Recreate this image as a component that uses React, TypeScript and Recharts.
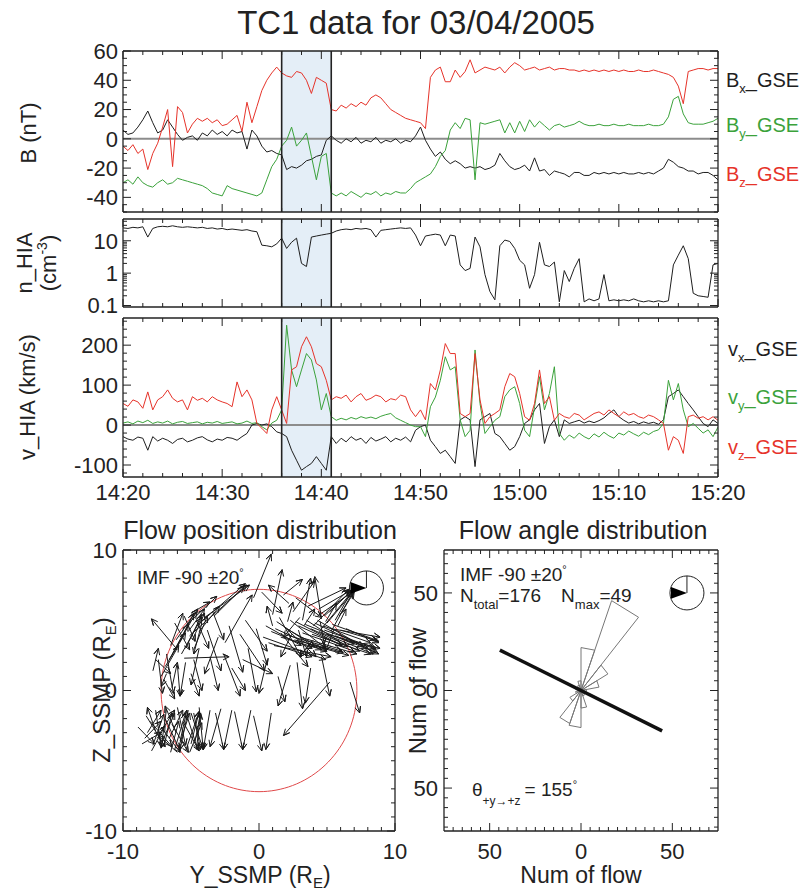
import React from 'react';
import {
  LineChart,
  ComposedChart,
  Line,
  XAxis,
  YAxis,
  ReferenceArea,
  ReferenceLine,
  ReferenceDot,
} from 'recharts';

const FONT = '"Liberation Sans", Arial, Helvetica, sans-serif';
const INK = '#222';
const C_X = '#1e1e1e';
const C_Y = '#3ba23b';
const C_Z = '#e6332a';
const BOX_FILL = '#e4eef7';
const PAGE_W = 804;
const PAGE_H = 894;

// ---------- time series: minutes after 14:20 UT, one sample every 30 s ----------
const timeLabels = ['14:20', '14:30', '14:40', '14:50', '15:00', '15:10', '15:20'];
const timeMajors = [0, 10, 20, 30, 40, 50, 60];
const timeTicks = [0, 2, 4, 6, 8, 10, 12, 14, 16, 18, 20, 22, 24, 26, 28, 30, 32, 34, 36, 38, 40, 42, 44, 46, 48, 50, 52, 54, 56, 58, 60];
const eventWindow = [16, 21]; // 14:36 - 14:41

// magnetic field, nT
const bx = [
  6, 3, 4, 8, 13, 19, 11, 4, 6, 13,
  8, 3, -1, 1, 2, -1, 4, 2, 6, 3,
  5, 2, 6, 4, 5, -7, 6, 2, -5, -9,
  -8, -10, -11, -21, -19, -20, -18, -15, -14, -12,
  -11, -1, 2, -1, -3, 0, -2, 1, -3, -1,
  -2, 1, -3, -1, -2, 0, -3, -1, -2, 2,
  8, -1, -7, -12, -9, -14, -17, -15, -17, -20,
  -19, -20, -19, -21, -20, -18, -10, -15, -19, -21,
  -20, -18, -22, -13, -22, -21, -25, -22, -23, -24,
  -26, -23, -23, -25, -25, -23, -24, -23, -24, -23,
  -24, -23, -24, -24, -23, -24, -23, -24, -22, -20,
  -14, -16, -19, -20, -22, -22, -24, -23, -23, -25,
  -28,
];
const by = [
  -30, -28, -31, -26, -30, -32, -33, -30, -28, -31,
  -30, -27, -28, -29, -30, -31, -32, -34, -37, -38,
  -39, -32, -34, -35, -36, -37, -38, -39, -37, -28,
  -19, -14, -5, -1, 8, -5, -1, 4, -12, -28,
  -12, -10, -37, -39, -37, -39, -36, -38, -40, -37,
  -38, -36, -39, -37, -38, -36, -37, -37, -34, -30,
  -28, -26, -24, -19, -12, -8, 6, 11, 7, 14,
  13, -28, 11, 10, 11, 12, 13, 4, 11, 4,
  12, 5, 13, 8, 12, 9, 6, 9, 10, 8,
  9, 10, 12, 10, 9, 9, 10, 9, 9, 10,
  9, 9, 10, 9, 9, 9, 10, 9, 9, 10,
  15, 27, 29, 17, 11, 10, 10, 10, 11, 12,
  14,
];
const bz = [
  -5, -8, -4, -10, -7, -21, -10, -3, 8, 20,
  -19, 22, 18, 4, 10, 14, 12, 14, 11, 13,
  9, 10, 13, 16, 5, 25, 11, 22, 33, 40,
  45, 49, 45, 43, 42, 46, 45, 40, 31, 42,
  40, 38, 20, 19, 23, 21, 24, 22, 25, 23,
  28, 30, 28, 24, 20, 18, 16, 14, 13, 12,
  11, 7, 42, 47, 49, 39, 39, 47, 42, 46,
  54, 45, 47, 49, 48, 47, 49, 45, 49, 52,
  50, 47, 48, 49, 47, 48, 49, 47, 48, 48,
  47, 47, 46, 47, 46, 47, 46, 47, 46, 47,
  46, 47, 46, 46, 47, 46, 46, 47, 46, 45,
  44, 42, 36, 24, 46, 47, 48, 48, 47, 48,
  48,
];

// ion density, cm^-3
const density = [
  25, 24, 26, 25, 27, 13, 24, 27, 28, 27,
  29, 27, 26, 27, 26, 25, 26, 24, 25, 23,
  24, 22, 23, 22, 21, 22, 20, 19, 7.3, 7,
  6.5, 8, 12, 5.8, 9, 12, 2, 1.6, 13, 14,
  15, 16, 17, 20, 22, 23, 22, 24, 23, 24,
  22, 13, 21, 22, 23, 24, 25, 24, 25, 15,
  7, 14, 15, 16, 15, 7, 15, 14, 1.8, 1.2,
  1.4, 13, 6.5, 0.9, 0.27, 0.15, 7, 10.5, 9.5, 5.8,
  2.5, 1.8, 0.34, 0.9, 9, 1.8, 1.6, 2.2, 0.13, 1.2,
  0.55, 1.4, 2.8, 0.13, 0.16, 0.14, 0.16, 0.9, 0.14, 0.15,
  0.14, 0.15, 0.14, 0.16, 0.14, 0.13, 0.14, 0.13, 0.14, 0.13,
  0.14, 1.8, 3.6, 7, 2.8, 0.24, 0.2, 0.19, 0.18, 1.8,
  2,
];

// ion bulk velocity, km/s
const vx = [
  -29, -35, -38, -30, -33, -63, -29, -40, -33, -38,
  -46, -36, -33, -42, -38, -32, -29, -37, -42, -35,
  -38, -31, -33, -38, -29, -21, 0, 4, 0, 3,
  -4, -17, -21, -29, -63, -88, -113, -104, -96, -79,
  -96, -113, -29, -46, -33, -42, -29, -38, -33, -46,
  -31, -40, -35, -29, -42, -33, -38, -30, -42, -13,
  -4, 0, -38, -54, -71, -63, -79, -96, 13, 21,
  13, -104, 13, 21, 29, -21, -29, -46, -63, -54,
  -29, 4, 13, 38, 54, -46, -4, 13, -29, 13,
  4, 8, 12, 5, 10, 6, 11, 18, 29, 38,
  21, 12, 5, 9, 3, 8, 4, 7, 2, 13,
  71, 79, 88, 71, 54, 38, 21, 4, -4, 13,
  4,
];
const vy = [
  5, 8, 3, 10, 6, 12, 4, 8, 5, 10,
  3, 7, 9, 4, 6, 8, 3, 7, 5, 9,
  4, 6, 8, 3, 5, 10, 4, 6, -4, -12,
  5, 12, 38, 250, 138, 96, 138, 179, 163, 113,
  38, 79, 21, 12, 17, 13, 19, 15, 21, 17,
  20, 16, 22, 26, 29, 18, 12, 6, 0, -4,
  -4, -29, 46, 70, 112, 171, 138, 146, 13, -29,
  -13, 188, 54, -21, -4, 12, 21, 71, 88, 96,
  54, -13, -29, 46, 121, 38, 79, 146, -21, -38,
  -25, -33, -20, -29, -35, -22, -30, -18, -27, -33,
  -20, -25, -15, -22, -28, -18, -24, -16, -12, 4,
  112, 63, 104, 38, -4, 4, -8, -20, -12, -29,
  -5,
];
const vz = [
  54, 47, 63, 58, 42, 83, 38, 63, 71, 88,
  67, 58, 63, 38, 71, 62, 67, 58, 71, 63,
  58, 54, 46, 108, 71, 88, 63, 4, -8, -21,
  38, 71, 38, 4, 138, 146, 196, 221, 196, 154,
  146, 112, 63, 71, 67, 75, 58, 71, 79, 62,
  67, 75, 71, 58, 66, 63, 75, 71, 38, 21,
  38, 13, 104, 88, 138, 204, 179, 179, 29, 21,
  29, 179, 63, 4, 21, 29, 38, 96, 129, 121,
  79, 21, 12, 54, 138, 54, 71, 12, 29, 21,
  17, 29, 25, 13, 21, 29, 33, 25, 38, 29,
  21, 33, 25, 29, 21, 17, 25, 21, 13, 4,
  -63, -29, -38, -71, 21, 25, 17, 21, 13, 21,
  12,
];

const bTicks = [-50, -45, -40, -35, -30, -25, -20, -15, -10, -5, 0, 5, 10, 15, 20, 25, 30, 35, 40, 45, 50, 55, 60];
const bMajors = [-40, -20, 0, 20, 40, 60];
const nTicks = [0.1, 0.2, 0.3, 0.4, 0.5, 0.6, 0.7, 0.8, 0.9, 1, 2, 3, 4, 5, 6, 7, 8, 9, 10, 20, 30, 40];
const nMajors = [0.1, 1, 10];
const vTicks = [-120, -100, -80, -60, -40, -20, 0, 20, 40, 60, 80, 100, 120, 140, 160, 180, 200, 220, 240, 260];
const vMajors = [-100, 0, 100, 200];

const timeSeries = bx.map((v, i) => ({
  t: i * 0.5,
  bx: v,
  by: by[i],
  bz: bz[i],
  n: density[i],
  vx: vx[i],
  vy: vy[i],
  vz: vz[i],
}));

// ---------- flow position distribution (SSMP, R_E): [y, z, dy, dz] ----------
const flowsUpper = [
  [-0.4, 6.6, 1.3, 3.1], [1.0, 5.4, 0.7, 3.2], [3.2, 5.0, 0.6, 3.0], [4.6, 5.1, -0.5, 3.0],
  [2.5, 5.6, 1.6, 2.2], [4.0, 4.6, 2.6, 2.6], [4.6, 4.4, 2.3, 2.7], [5.0, 4.8, 2.0, 2.3],
  [5.3, 4.2, 1.6, 2.8], [4.3, 5.3, 2.7, 1.8], [5.6, 5.0, 1.3, 2.2], [3.6, 6.0, 2.8, 1.3],
  [1.8, 6.8, 1.4, 1.1], [2.2, 6.2, -1.5, 1.3], [0.2, 7.0, 1.5, -1.5], [2.7, 6.6, 1.9, -1.4],
  [1.0, 4.6, -0.4, 1.4], [2.1, 4.9, 0.4, 1.4], [3.3, 4.6, 0.8, 1.2], [4.9, 4.9, 0.8, 1.3],
  [5.8, 4.6, 0.6, 1.2], [4.8, 5.3, 2.0, 1.8], [5.2, 5.6, 1.6, 1.5], [4.4, 5.8, 2.3, 1.3],
  [5.9, 5.3, 1.1, 1.7],
];
const flowsLeftUpper = [
  [-5.1, 3.9, 4.2, 3.6], [-4.6, 4.6, 3.6, 3.0], [-4.0, 5.2, 3.3, 2.3], [-3.3, 5.3, 2.2, 2.1],
  [-5.6, 4.4, 2.5, 2.3], [-2.5, 3.4, 2.0, 3.4], [-6.3, 2.7, 1.7, 2.9], [-6.0, 2.9, -1.9, 2.2],
  [-6.6, 2.2, 1.4, 2.5], [-5.8, 3.5, 1.0, 2.0], [-5.4, 3.0, 1.2, 2.4], [-4.9, 3.6, 0.9, 1.9],
  [-6.9, 1.7, 1.5, 2.4], [-5.5, 5.3, 0.8, -1.8], [-4.6, 5.0, 0.9, -2.0], [-6.2, 4.8, 1.1, -1.9],
  [-4.2, 4.8, -0.6, -2.2], [-5.0, 5.5, 1.4, 0.8], [-7.2, 1.0, 1.3, 2.2], [-7.6, 2.2, 1.1, -1.0],
  [-6.8, 1.2, -0.4, -0.9], [-6.1, 3.6, 1.6, 2.2], [-5.2, 4.2, 1.2, 1.6], [-4.4, 4.2, 1.5, 1.8],
  [-6.5, 3.2, 0.9, 2.3], [-5.7, 2.6, 1.5, 2.6], [-4.8, 2.9, 1.0, 2.4],
];
const flowsCentral = [
  [-3.8, 4.3, 1.0, -2.9], [-2.2, 4.6, 1.0, -3.3], [-1.4, 4.0, 1.8, -2.6], [-3.0, 3.8, -1.0, -2.6],
  [-2.6, 2.6, 1.2, -3.0], [-0.8, 3.0, 0.6, -3.1], [-4.4, 3.0, -0.6, -2.6], [-1.2, 2.2, 2.2, -1.0],
  [-3.6, 2.4, 0.6, -2.4], [-2.0, 1.6, 1.0, -1.6], [-4.8, 2.2, 0.6, -2.2], [-3.4, 5.6, 0.8, -2.0],
  [-1.0, 5.0, 1.6, -2.2], [-0.2, 4.4, 0.8, -2.6], [-5.5, 2.3, 3.3, 0.1],
];
const flowsRight = [
  [0.5, 4.6, 2.6, -1.4], [0.9, 4.2, 3.0, -1.2], [1.3, 4.9, 2.8, -1.8], [1.6, 3.8, 3.4, -1.0],
  [2.0, 4.4, 3.0, -1.6], [2.3, 5.0, 2.6, -2.0], [2.6, 3.6, 3.6, -0.9], [2.9, 4.6, 3.2, -1.4],
  [3.2, 4.1, 3.8, -1.3], [3.5, 5.0, 3.0, -1.9], [3.8, 4.4, 3.6, -1.6], [4.1, 4.8, 3.9, -1.8],
  [4.4, 4.2, 4.0, -1.6], [4.7, 4.6, 3.5, -1.2], [5.0, 4.0, 3.9, -1.0], [5.3, 4.4, 3.6, -0.6],
  [5.6, 3.9, 3.0, -1.2], [6.0, 4.3, 2.8, -0.8], [6.3, 3.6, 2.2, -0.6], [0.3, 3.8, 4.6, -1.6],
  [1.1, 3.2, 4.2, -0.8], [1.5, 5.2, 1.6, -2.8], [2.4, 4.0, -0.8, -1.6], [3.0, 5.2, -1.2, -1.4],
  [4.0, 3.6, -1.0, -1.2], [0.7, 3.4, 3.2, -1.0], [1.2, 4.4, 3.4, -1.5], [1.8, 4.6, 2.4, -2.2],
  [2.2, 3.9, 3.9, -1.1], [2.7, 4.9, 3.4, -1.7], [3.0, 3.8, 4.2, -1.2], [3.4, 4.7, 3.6, -1.4],
  [3.9, 4.0, 4.3, -1.4], [4.3, 5.0, 3.4, -1.9], [4.8, 4.3, 3.8, -1.3], [5.4, 4.7, 3.2, -1.1],
  [5.9, 4.0, 2.9, -1.4], [6.4, 4.4, 2.4, -1.0], [1.6, 4.1, 2.0, -2.4], [2.9, 4.3, 0.6, -1.9],
  [4.5, 4.9, 0.3, -1.6], [5.5, 4.3, -0.6, -1.5], [3.6, 3.3, 3.0, -0.8],
];
const flowsMidRight = [
  [2.3, 1.8, -0.9, -2.9], [2.8, 2.0, 0.4, -3.3], [5.2, 0.6, -3.4, -3.8], [6.7, 0.6, 0.7, -2.2],
  [0.6, 2.2, -0.6, -2.4], [3.8, 1.6, -0.4, -2.5], [4.6, 2.4, 0.6, -2.8], [1.4, 1.0, 0.5, -1.8],
];
const flowsLowerCentral = [
  [-5.0, -1.6, 0.9, -2.6], [-3.6, -1.4, -0.5, -2.8], [-3.2, -1.6, 0.6, -2.6], [-2.0, -1.4, -0.6, -2.8],
  [-1.8, -1.5, 0.6, -2.7], [-0.6, -1.4, -0.6, -2.8], [-0.4, -1.8, 0.6, -2.5], [-4.4, -1.2, 0.3, -3.0],
  [-2.8, -1.3, -0.8, -2.7], [0.9, -1.6, -0.4, -2.6],
];
const flowsLowerLeft = [
  [-8.2, -3.0, 1.0, 1.6], [-7.8, -3.9, 0.8, 2.2], [-7.4, -3.2, 1.2, 1.8], [-7.0, -4.0, 0.6, 2.4],
  [-6.6, -3.4, 1.0, 2.0], [-6.2, -4.2, 0.8, 2.6], [-5.8, -3.6, 0.5, 2.2], [-5.4, -4.3, 1.0, 2.8],
  [-5.0, -3.8, 0.6, 2.3], [-4.6, -4.2, 0.3, 2.6], [-8.6, -3.8, 1.4, 0.8], [-7.6, -1.4, 0.4, -2.6],
  [-6.8, -1.3, -0.4, -2.8], [-6.0, -1.2, 0.6, -2.7], [-5.2, -1.4, -0.6, -2.8], [-4.8, -1.6, 0.5, -2.6],
  [-8.0, -2.2, 1.6, -1.8], [-7.2, -2.6, 1.4, -1.8], [-6.4, -2.4, 1.2, -2.0], [-5.6, -2.2, 1.2, -2.1],
  [-8.9, -2.6, 1.2, -1.2], [-6.0, -4.4, -1.4, 1.2], [-8.4, -3.4, 1.2, 1.2], [-7.9, -4.3, 1.0, 1.8],
  [-7.1, -3.6, 0.9, 2.0], [-6.5, -4.4, 0.6, 2.2], [-5.9, -4.0, 0.8, 2.4], [-5.1, -4.4, 0.9, 2.1],
  [-4.7, -3.6, 0.4, 2.0], [-8.3, -1.8, 1.4, -2.2], [-6.9, -2.0, 1.1, -2.3], [-5.3, -1.8, 0.8, -2.4],
  [-7.6, -2.9, -0.6, 1.7], [-6.1, -3.0, -0.8, 1.9],
];
const flowsMidLeft = [
  [-7.4, 2.2, 0.3, -2.4], [-6.8, 2.6, 0.5, -2.8], [-6.0, 1.8, 0.2, -2.2], [-5.4, 2.0, -0.4, -2.4],
  [-7.0, 0.8, 0.8, -1.4], [-5.0, 1.2, 0.6, -1.6], [-6.4, 0.2, 0.4, 1.8], [-7.8, 1.4, 0.4, 1.6],
];
const boundaryRadius = 7.2; // R_E
const posTicks = [-10, -9, -8, -7, -6, -5, -4, -3, -2, -1, 0, 1, 2, 3, 4, 5, 6, 7, 8, 9, 10];
const posMajors = [-10, 0, 10];

// ---------- flow angle distribution: 20 deg bins ----------
const petalStart = [-10, 10, 30, 50, 70, 90, 110, 130, 150, 170, 190, 210, 230, 250, 270, 290, 310, 330];
const petalCount = [3, 10, 17, 49, 22, 5, 3, 2, 3, 2, 3, 7, 18, 19, 9, 3, 1, 0];
const meanAngle = 155; // theta(+y -> +z), deg
const nMax = 49;
const angTicks = [-70, -65, -60, -55, -50, -45, -40, -35, -30, -25, -20, -15, -10, -5, 0, 5, 10, 15, 20, 25, 30, 35, 40, 45, 50, 55, 60, 65, 70];
const angMajors = [-50, 0, 50];

// IMF clock angle selection
const imfClock = -90;
const imfSpread = 20;

const rad = (d: number) => (d * Math.PI) / 180;

const flowVectors = [
  ...flowsUpper, ...flowsLeftUpper, ...flowsCentral, ...flowsRight,
  ...flowsMidRight, ...flowsLowerCentral, ...flowsLowerLeft, ...flowsMidLeft,
];

// each arrow: shaft, then both barbs, broken by a null point
const HEAD = 0.5;
const arrowPts = flowVectors.flatMap(([y0, z0, dy, dz]) => {
  const y1 = y0 + dy;
  const z1 = z0 + dz;
  const a = Math.atan2(dz, dy);
  const b1 = a + Math.PI - rad(25);
  const b2 = a + Math.PI + rad(25);
  return [
    { y: y0, z: z0 },
    { y: y1, z: z1 },
    { y: y1 + HEAD * Math.cos(b1), z: z1 + HEAD * Math.sin(b1) },
    { y: y1, z: z1 },
    { y: y1 + HEAD * Math.cos(b2), z: z1 + HEAD * Math.sin(b2) },
    { y: y1, z: null },
  ];
});

const circlePts = Array.from({ length: 145 }, (_, i) => {
  const a = (i / 144) * 2 * Math.PI;
  return { y: boundaryRadius * Math.cos(a), z: boundaryRadius * Math.sin(a) };
});

const petalPts = petalStart.flatMap((a0, i) => {
  const r = petalCount[i];
  if (!r) return [];
  return [
    { x: 0, n: 0 },
    { x: r * Math.cos(rad(a0)), n: r * Math.sin(rad(a0)) },
    { x: r * Math.cos(rad(a0 + 20)), n: r * Math.sin(rad(a0 + 20)) },
    { x: 0, n: 0 },
    { x: 0, n: null },
  ];
});

const meanLine = [
  { x: nMax * Math.cos(rad(meanAngle)), n: nMax * Math.sin(rad(meanAngle)) },
  { x: -nMax * Math.cos(rad(meanAngle)), n: -nMax * Math.sin(rad(meanAngle)) },
];

// ---------- helpers ----------
type Side = 'left' | 'right' | 'top' | 'bottom';

const makeTick = (
  side: Side,
  majors: number[],
  fmt?: (v: number) => string,
  opts: { fs?: number; gap?: number; major?: number; minor?: number } = {}
) => {
  const { fs = 22, gap = 6, major = 8, minor = 4 } = opts;
  return (props: any) => {
    const { x, y, payload } = props;
    const v = Number(payload.value);
    const isMajor = majors.some((m) => Math.abs(m - v) <= Math.abs(m) * 1e-6 + 1e-9);
    const len = isMajor ? major : minor;
    const dx = side === 'left' ? len : side === 'right' ? -len : 0;
    const dy = side === 'top' ? len : side === 'bottom' ? -len : 0;
    let label = null;
    if (isMajor && fmt) {
      if (side === 'bottom') {
        label = (
          <text x={x} y={y + gap + fs * 0.716} textAnchor="middle" fontSize={fs} fontFamily={FONT} fill={INK}>
            {fmt(v)}
          </text>
        );
      } else if (side === 'left') {
        label = (
          <text x={x - gap} y={y + fs * 0.358} textAnchor="end" fontSize={fs} fontFamily={FONT} fill={INK}>
            {fmt(v)}
          </text>
        );
      }
    }
    return (
      <g>
        <line x1={x} y1={y} x2={x + dx} y2={y + dy} stroke={INK} strokeWidth={1} />
        {label}
      </g>
    );
  };
};

const frameLine = { stroke: INK, strokeWidth: 1.3 };

const chartBox = (plotTop: number, plotBottom: number, padBottom: number, plotL: number, plotR: number) => ({
  top: plotTop - 15,
  height: plotBottom - plotTop + 16 + padBottom,
  margin: { top: 14, right: PAGE_W - plotR - 1, bottom: padBottom, left: plotL - 1 },
});

const timeFmt = (v: number) => timeLabels[timeMajors.indexOf(v)] ?? '';
const numFmt = (v: number) => String(v);
const absFmt = (v: number) => String(Math.abs(v));

interface TimePanelProps {
  plotTop: number;
  plotBottom: number;
  domain: number[];
  ticks: number[];
  majors: number[];
  log?: boolean;
  labels?: boolean;
  zeroLine?: boolean;
  children?: React.ReactNode;
}

const TimePanel = ({ plotTop, plotBottom, domain, ticks, majors, log, labels, zeroLine, children }: TimePanelProps) => {
  const box = chartBox(plotTop, plotBottom, labels ? 40 : 9, 123, 718);
  const yScale = log ? 'log' : 'linear';
  return (
    <div style={{ position: 'absolute', left: 0, top: box.top }}>
      <LineChart width={PAGE_W} height={box.height} data={timeSeries} margin={box.margin}>
        <XAxis xAxisId="b" dataKey="t" type="number" domain={[0, 60]} ticks={timeTicks} interval={0}
          allowDataOverflow height={1} tickSize={0} tickMargin={0} tickLine={false} axisLine={frameLine}
          tick={makeTick('bottom', timeMajors, labels ? timeFmt : undefined, { gap: 7 })} />
        <XAxis xAxisId="t" orientation="top" dataKey="t" type="number" domain={[0, 60]} ticks={timeTicks} interval={0}
          allowDataOverflow height={1} tickSize={0} tickMargin={0} tickLine={false} axisLine={frameLine}
          tick={makeTick('top', timeMajors)} />
        <YAxis yAxisId="l" type="number" scale={yScale} domain={domain} ticks={ticks} interval={0}
          allowDataOverflow width={1} tickSize={0} tickMargin={0} tickLine={false} axisLine={frameLine}
          tick={makeTick('left', majors, numFmt, { gap: 5 })} />
        <YAxis yAxisId="r" orientation="right" type="number" scale={yScale} domain={domain} ticks={ticks} interval={0}
          allowDataOverflow width={1} tickSize={0} tickMargin={0} tickLine={false} axisLine={frameLine}
          tick={makeTick('right', majors)} />
        <ReferenceArea xAxisId="b" yAxisId="l" x1={eventWindow[0]} x2={eventWindow[1]} fill={BOX_FILL} fillOpacity={1} stroke="none" />
        {zeroLine && <ReferenceLine xAxisId="b" yAxisId="l" y={0} stroke="#8c8c8c" strokeWidth={2} />}
        {children}
        <ReferenceLine xAxisId="b" yAxisId="l" x={eventWindow[0]} stroke={INK} strokeWidth={1.6} />
        <ReferenceLine xAxisId="b" yAxisId="l" x={eventWindow[1]} stroke={INK} strokeWidth={1.6} />
      </LineChart>
    </div>
  );
};

const series = (key: string, color: string) => (
  <Line key={key} xAxisId="b" yAxisId="l" dataKey={key} stroke={color} strokeWidth={1} dot={false}
    activeDot={false} isAnimationActive={false} type="linear" />
);

// small dial: reference line at clock angle 0, filled wedge for the IMF selection
const ImfDial = (props: any) => {
  const { cx, cy } = props;
  const r = 17;
  const p = (deg: number) => `${cx + r * Math.sin(rad(deg))},${cy - r * Math.cos(rad(deg))}`;
  return (
    <g>
      <circle cx={cx} cy={cy} r={r} fill="none" stroke={INK} strokeWidth={1} />
      <line x1={cx} y1={cy} x2={cx} y2={cy - r} stroke={INK} strokeWidth={1} />
      <polygon points={`${cx},${cy} ${p(imfClock - imfSpread)} ${p(imfClock + imfSpread)}`} fill="#000" />
    </g>
  );
};

const squareAxes = (ticks: number[], majors: number[], domainX: number[], domainY: number[], xKey: string, fmt: (v: number) => string) => [
  <XAxis key="xb" xAxisId="b" dataKey={xKey} type="number" domain={domainX} ticks={ticks} interval={0} allowDataOverflow
    height={1} tickSize={0} tickMargin={0} tickLine={false} axisLine={frameLine}
    tick={makeTick('bottom', majors, fmt, { gap: 12 })} />,
  <XAxis key="xt" xAxisId="t" orientation="top" dataKey={xKey} type="number" domain={domainX} ticks={ticks} interval={0}
    allowDataOverflow height={1} tickSize={0} tickMargin={0} tickLine={false} axisLine={frameLine}
    tick={makeTick('top', majors)} />,
  <YAxis key="yl" yAxisId="l" type="number" domain={domainY} ticks={ticks} interval={0} allowDataOverflow width={1}
    tickSize={0} tickMargin={0} tickLine={false} axisLine={frameLine}
    tick={makeTick('left', majors, fmt, { gap: 6 })} />,
  <YAxis key="yr" yAxisId="r" orientation="right" type="number" domain={domainY} ticks={ticks} interval={0}
    allowDataOverflow width={1} tickSize={0} tickMargin={0} tickLine={false} axisLine={frameLine}
    tick={makeTick('right', majors)} />,
];

const PositionPanel = () => {
  const box = chartBox(550, 831, 40, 123, 395);
  return (
    <div style={{ position: 'absolute', left: 0, top: box.top }}>
      <ComposedChart width={PAGE_W} height={box.height} margin={box.margin}>
        {squareAxes(posTicks, posMajors, [-10, 10], [-10, 10], 'y', numFmt)}
        <Line xAxisId="b" yAxisId="l" data={circlePts} dataKey="z" stroke="#e0494a" strokeWidth={1} dot={false}
          activeDot={false} isAnimationActive={false} type="linear" />
        <Line xAxisId="b" yAxisId="l" data={arrowPts} dataKey="z" stroke="#1a1a1a" strokeWidth={1} dot={false}
          activeDot={false} isAnimationActive={false} type="linear" connectNulls={false} />
        <ReferenceDot xAxisId="b" yAxisId="l" x={7.9} y={7.3} r={17} shape={ImfDial} />
      </ComposedChart>
    </div>
  );
};

const AnglePanel = () => {
  const box = chartBox(550, 831, 40, 444, 718);
  return (
    <div style={{ position: 'absolute', left: 0, top: box.top }}>
      <ComposedChart width={PAGE_W} height={box.height} margin={box.margin}>
        {squareAxes(angTicks, angMajors, [-75, 75], [-72, 72], 'x', absFmt)}
        <Line xAxisId="b" yAxisId="l" data={petalPts} dataKey="n" stroke="#777" strokeWidth={1} dot={false}
          activeDot={false} isAnimationActive={false} type="linear" connectNulls={false} />
        <Line xAxisId="b" yAxisId="l" data={meanLine} dataKey="n" stroke="#111" strokeWidth={3.5} dot={false}
          activeDot={false} isAnimationActive={false} type="linear" />
        <ReferenceDot xAxisId="b" yAxisId="l" x={58} y={50} r={17} shape={ImfDial} />
      </ComposedChart>
    </div>
  );
};

const CompLabel = ({ x, y, base, sub, color }: { x: number; y: number; base: string; sub: string; color: string }) => (
  <text x={x} y={y} fontSize={20} fill={color}>
    {base}
    <tspan fontSize={13} dy={6}>{sub}</tspan>
    <tspan dy={-6}>_GSE</tspan>
  </text>
);

const Annotations = () => (
  <svg width={PAGE_W} height={PAGE_H} style={{ position: 'absolute', left: 0, top: 0, pointerEvents: 'none' }}
    fontFamily={FONT} fill={INK}>
    <text x={416} y={34} fontSize={33} textAnchor="middle">TC1 data for 03/04/2005</text>

    <text transform="translate(36,133) rotate(-90)" fontSize={22} textAnchor="middle">B (nT)</text>
    <text transform="translate(32,263) rotate(-90)" fontSize={22} textAnchor="middle">n_HIA</text>
    <text transform="translate(56,263) rotate(-90)" fontSize={22} textAnchor="middle">
      (cm<tspan fontSize={14} dy={-9}>-3</tspan><tspan dy={9}>)</tspan>
    </text>
    <text transform="translate(35,397) rotate(-90)" fontSize={22} textAnchor="middle">v_HIA (km/s)</text>

    <CompLabel x={726} y={87} base="B" sub="x" color={C_X} />
    <CompLabel x={726} y={132} base="B" sub="y" color={C_Y} />
    <CompLabel x={726} y={181} base="B" sub="z" color={C_Z} />
    <CompLabel x={728} y={356} base="v" sub="x" color={C_X} />
    <CompLabel x={728} y={404} base="v" sub="y" color={C_Y} />
    <CompLabel x={728} y={454} base="v" sub="z" color={C_Z} />

    <text x={260} y={539} fontSize={25} textAnchor="middle">Flow position distribution</text>
    <text x={583} y={539} fontSize={25} textAnchor="middle">Flow angle distribution</text>

    <text x={260} y={883} fontSize={23} textAnchor="middle">
      Y_SSMP (R<tspan fontSize={15} dy={5}>E</tspan><tspan dy={-5}>)</tspan>
    </text>
    <text x={581} y={883} fontSize={23} textAnchor="middle">Num of flow</text>
    <text transform="translate(110,690) rotate(-90)" fontSize={24} textAnchor="middle">
      Z_SSMP (R<tspan fontSize={15} dy={6}>E</tspan><tspan dy={-6}>)</tspan>
    </text>
    <text transform="translate(426,691) rotate(-90)" fontSize={24} textAnchor="middle">Num of flow</text>

    <text x={137} y={584} fontSize={19}>
      IMF -90 ±20<tspan fontSize={11} dy={-8}>°</tspan>
    </text>
    <text x={460} y={581} fontSize={19}>
      IMF -90 ±20<tspan fontSize={11} dy={-8}>°</tspan>
    </text>
    <text x={460} y={602} fontSize={19}>
      N<tspan fontSize={13} dy={7}>total</tspan>
      <tspan dy={-7}>=176</tspan>
      <tspan dx={20}>N</tspan>
      <tspan fontSize={13} dy={7}>max</tspan>
      <tspan dy={-7}>=49</tspan>
    </text>
    <text x={472} y={796} fontSize={19}>
      θ<tspan fontSize={12} dy={9}>+y→+z</tspan>
      <tspan dy={-9} dx={4}>= 155</tspan>
      <tspan fontSize={11} dy={-8}>°</tspan>
    </text>
  </svg>
);

export default function App() {
  return (
    <div style={{ position: 'absolute', left: 0, top: 0, width: PAGE_W, height: PAGE_H, background: '#fff', fontFamily: FONT }}>
      <TimePanel plotTop={51} plotBottom={212} domain={[-50, 60]} ticks={bTicks} majors={bMajors} zeroLine>
        {series('bx', C_X)}
        {series('by', C_Y)}
        {series('bz', C_Z)}
      </TimePanel>
      <TimePanel plotTop={219} plotBottom={307} domain={[0.09, 47]} ticks={nTicks} majors={nMajors} log>
        {series('n', '#1e1e1e')}
      </TimePanel>
      <TimePanel plotTop={318} plotBottom={477} domain={[-130, 268]} ticks={vTicks} majors={vMajors} labels zeroLine>
        {series('vx', C_X)}
        {series('vy', C_Y)}
        {series('vz', C_Z)}
      </TimePanel>
      <PositionPanel />
      <AnglePanel />
      <Annotations />
    </div>
  );
}
